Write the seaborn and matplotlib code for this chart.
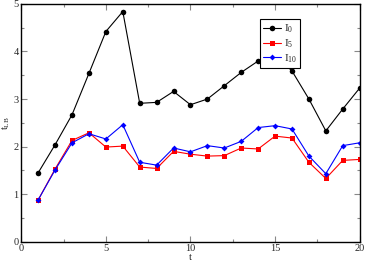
import matplotlib
matplotlib.use("Agg")
import matplotlib.pyplot as plt
import seaborn as sns
import pandas as pd
from matplotlib.ticker import MultipleLocator

t = list(range(1, 21))
I0 = [1.45, 2.04, 2.67, 3.54, 4.42, 4.84, 2.91, 2.93, 3.16, 2.88,
      3.00, 3.28, 3.56, 3.80, 3.93, 3.59, 3.00, 2.33, 2.79, 3.23]
I5 = [0.88, 1.53, 2.13, 2.29, 1.99, 2.01, 1.57, 1.54, 1.90, 1.84,
      1.80, 1.81, 1.97, 1.95, 2.22, 2.18, 1.67, 1.33, 1.71, 1.73]
I10 = [0.88, 1.51, 2.08, 2.27, 2.16, 2.46, 1.67, 1.61, 1.97, 1.89,
       2.02, 1.97, 2.11, 2.40, 2.44, 2.37, 1.80, 1.43, 2.02, 2.08]
labels = [r"$\mathrm{I}_{0}$", r"$\mathrm{I}_{5}$", r"$\mathrm{I}_{10}$"]

sns.set_style("ticks")
plt.rcParams["font.family"] = ["Liberation Serif", "DejaVu Serif"]
plt.rcParams["mathtext.fontset"] = "custom"
plt.rcParams["mathtext.rm"] = "Liberation Serif"
plt.rcParams["mathtext.it"] = "Liberation Serif:italic"

fig = plt.figure(figsize=(3.67, 2.62), dpi=100)
ax = fig.add_axes([0.058, 0.0775, 0.922, 0.9075])

df = pd.DataFrame({"t": t, "I0": I0, "I5": I5, "I10": I10})
sns.lineplot(data=df, x="t", y="I0", ax=ax, color="black", marker="o",
             markersize=4, markeredgewidth=0, linewidth=0.8, label=labels[0])
sns.lineplot(data=df, x="t", y="I5", ax=ax, color="red", marker="s",
             markersize=3.6, markeredgewidth=0, linewidth=0.8, label=labels[1])
sns.lineplot(data=df, x="t", y="I10", ax=ax, color="blue", marker="D",
             markersize=3, markeredgewidth=0, linewidth=0.8, label=labels[2])

ax.set_xlim(0, 20)
ax.set_ylim(0, 5)
ax.xaxis.set_major_locator(MultipleLocator(5))
ax.xaxis.set_minor_locator(MultipleLocator(2.5))
ax.yaxis.set_major_locator(MultipleLocator(1))
ax.yaxis.set_minor_locator(MultipleLocator(0.5))
ax.tick_params(which="both", direction="in", top=True, right=True,
               color="#888888", labelsize=7.5, pad=2)
ax.tick_params(which="major", length=4, width=0.8)
ax.tick_params(which="minor", length=2.5, width=0.8)
for s in ax.spines.values():
    s.set_linewidth(1.0)
    s.set_color("black")
ax.set_xlabel("t", fontsize=7.5, labelpad=0)
ax.set_ylabel(r"$\mathrm{t}_{\mathrm{LB}}$", fontsize=7.5, labelpad=1)

leg = ax.legend(loc="upper left", bbox_to_anchor=(0.704, 0.935), fontsize=8,
                frameon=True, fancybox=False, edgecolor="black",
                handlelength=1.6, handletextpad=0.3, borderpad=0.3,
                labelspacing=0.2, borderaxespad=0, framealpha=1)
leg.get_frame().set_linewidth(0.8)

fig.savefig("out.png", dpi=100)
